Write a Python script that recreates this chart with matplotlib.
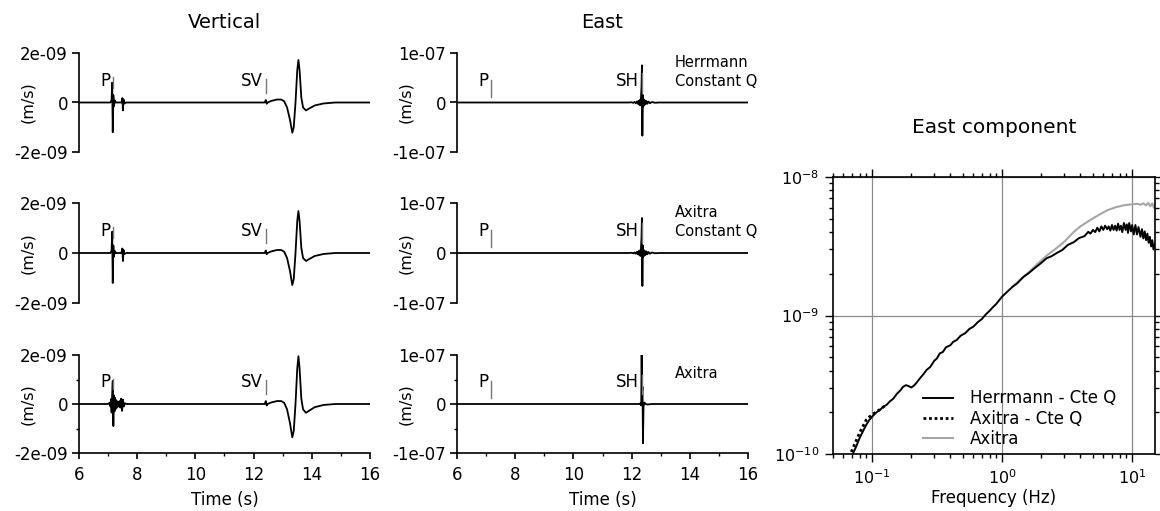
import matplotlib
matplotlib.use("Agg")
from matplotlib import pyplot as plt
from matplotlib import transforms
from matplotlib.ticker import FixedLocator, MultipleLocator, LogLocator, NullFormatter

W, H = 1160, 511

# ---- synthetic seismograms (velocity) ----
vert_scale = 1e-9   # vertical traces listed in 1e-9 m/s
east_scale = 1e-7   # east traces listed in 1e-7 m/s

t_vert_cq = [6.0, 7.08, 7.12, 7.14, 7.16, 7.18, 7.20, 7.23, 7.27, 7.46, 7.49, 7.51, 7.53,
             7.56, 7.62, 12.38, 12.42, 12.45, 12.48, 12.6, 12.8, 12.95, 13.05, 13.15, 13.25,
             13.33, 13.38, 13.44, 13.50, 13.54, 13.58, 13.64, 13.70, 13.80, 13.90, 14.1,
             14.4, 14.8, 16.0]
v_vert_herrmann_cq = [0, 0, 0.1, 0.8, -1.2, 0.3, -0.15, 0.08, 0, 0, 0.18, -0.32, 0.12,
                      -0.04, 0, 0, 0.1, -0.05, 0, 0.06, 0.12, 0.12, 0.05, -0.2, -0.7,
                      -1.22, -1.0, 0.0, 1.3, 1.72, 1.3, 0.2, -0.2, -0.32, -0.25, -0.12,
                      -0.04, 0, 0]
v_vert_axitra_cq = [0, 0, 0.1, 0.85, -1.2, 0.3, -0.15, 0.08, 0, 0, 0.18, -0.32, 0.12,
                    -0.04, 0, 0, 0.1, -0.05, 0, 0.06, 0.12, 0.12, 0.05, -0.2, -0.72,
                    -1.28, -1.04, 0.0, 1.28, 1.68, 1.28, 0.2, -0.2, -0.32, -0.25, -0.12,
                    -0.04, 0, 0]

t_vert_axitra = [6.0, 7.00, 7.05, 7.08, 7.10, 7.12, 7.14, 7.16, 7.18, 7.20, 7.22, 7.24,
                 7.26, 7.28, 7.30, 7.33, 7.36, 7.39, 7.42, 7.45, 7.48, 7.51, 7.54, 7.58,
                 7.64, 12.38, 12.42, 12.45, 12.48, 12.6, 12.8, 12.95, 13.05, 13.15, 13.25,
                 13.33, 13.38, 13.44, 13.50, 13.54, 13.58, 13.64, 13.70, 13.80, 13.90,
                 14.1, 14.4, 14.8, 16.0]
v_vert_axitra = [0, 0, 0.05, -0.1, 0.2, -0.35, 0.4, 0.94, -0.9, 0.35, -0.3, 0.25, -0.2,
                 0.15, -0.15, 0.1, -0.1, 0.12, -0.15, 0.22, -0.28, 0.18, -0.1, 0.03, 0,
                 0, 0.12, -0.06, 0, 0.06, 0.12, 0.12, 0.05, -0.22, -0.78, -1.36, -1.1,
                 0.0, 1.45, 1.95, 1.45, 0.22, -0.22, -0.36, -0.28, -0.13, -0.04, 0, 0]

t_east_cq = [6.0, 11.9, 12.00, 12.06, 12.10, 12.14, 12.18, 12.21, 12.24, 12.26, 12.28,
             12.30, 12.32, 12.34, 12.355, 12.37, 12.385, 12.40, 12.42, 12.44, 12.46,
             12.48, 12.51, 12.54, 12.58, 12.63, 12.70, 12.80, 12.95, 16.0]
v_east_herrmann_cq = [0, 0, 0.005, -0.008, 0.012, -0.015, 0.02, -0.025, 0.035, -0.04,
                      0.05, -0.06, 0.08, 0.3, 0.75, -0.67, 0.15, -0.08, 0.06, -0.05, 0.04,
                      -0.035, 0.03, -0.025, 0.02, -0.015, 0.01, -0.005, 0, 0]
v_east_axitra_cq = [0, 0, 0.005, -0.008, 0.012, -0.015, 0.02, -0.025, 0.035, -0.04,
                    0.05, -0.06, 0.08, 0.3, 0.70, -0.66, 0.15, -0.08, 0.06, -0.05, 0.04,
                    -0.035, 0.03, -0.025, 0.02, -0.015, 0.01, -0.005, 0, 0]

t_east_axitra = [6.0, 12.28, 12.31, 12.33, 12.345, 12.36, 12.375, 12.39, 12.41, 12.44,
                 12.48, 12.55, 12.7, 16.0]
v_east_axitra = [0, 0, 0.02, -0.03, 1.0, 0.25, 0.35, -0.8, -0.05, 0.03, 0.0, -0.01, 0, 0]

# phase picks (s)
p_pick = 7.18
sv_pick = 12.43
sh_pick = 12.36

row_labels = ["Herrmann\nConstant Q", "Axitra\nConstant Q", "Axitra"]
column_titles = ["Vertical", "East"]
time_ticks = [6, 8, 10, 12, 14, 16]
vert_ticklabels = ["-2e-09", "0", "2e-09"]
east_ticklabels = ["-1e-07", "0", "1e-07"]

# ---- amplitude spectra of the east component ----
freq_herrmann_cq = [0.068, 0.075, 0.080, 0.085, 0.090, 0.095, 0.100, 0.108, 0.115, 0.122,
                    0.129, 0.137, 0.145, 0.155, 0.165, 0.173, 0.182, 0.190, 0.200, 0.210,
                    0.220, 0.235, 0.250, 0.262, 0.280, 0.300, 0.315, 0.332, 0.350, 0.370,
                    0.400, 0.420, 0.447, 0.480, 0.520, 0.560, 0.600, 0.650, 0.700, 0.750,
                    0.800, 0.850, 0.900, 0.950, 1.00, 1.10, 1.20, 1.30, 1.46, 1.60, 1.75,
                    1.96, 2.20, 2.40, 2.64, 2.90, 3.20, 3.55, 3.90, 4.30, 4.60, 4.78, 5.0,
                    5.2, 5.4, 5.6, 5.8, 6.0, 6.2, 6.43, 6.6, 6.8, 7.0, 7.2, 7.4, 7.6, 7.8,
                    8.0, 8.2, 8.4, 8.65, 8.9, 9.1, 9.3, 9.5, 9.8, 10.0, 10.3, 10.6, 10.9,
                    11.2, 11.6, 11.9, 12.2, 12.5, 12.8, 13.1, 13.4, 13.7, 14.0, 14.3, 14.6,
                    15.0]
amp_herrmann_cq = [0.92, 1.12, 1.30, 1.46, 1.62, 1.76, 1.86, 2.00, 2.08, 2.20,
                   2.26, 2.40, 2.50, 2.72, 2.88, 3.06, 3.14, 3.10, 3.02, 3.12,
                   3.28, 3.55, 3.80, 4.04, 4.25, 4.70, 4.90, 5.33, 5.45, 5.90,
                   6.10, 6.45, 6.65, 7.15, 7.45, 8.00, 8.30, 8.95, 9.45, 10.2,
                   10.8, 11.5, 12.1, 12.9, 13.7, 14.9, 16.1, 17.0, 19.0, 20.2, 21.7,
                   23.6, 25.9, 26.8, 28.3, 29.7, 32.3, 33.8, 36.2, 37.4, 40.2, 39.0, 41.5,
                   40.0, 43.0, 40.5, 44.0, 41.5, 44.5, 42.0, 44.0, 41.0, 45.0, 41.5, 44.5,
                   41.0, 46.0, 41.5, 44.5, 40.0, 46.5, 41.5, 45.5, 39.5, 46.5, 40.5, 45.0,
                   38.5, 45.0, 38.5, 43.5, 37.0, 42.0, 36.0, 40.5, 35.0, 39.0, 33.5, 37.0,
                   31.5, 35.0, 30.0, 33.0]

freq_axitra_cq = [0.062, 0.068, 0.074, 0.080, 0.086, 0.090, 0.095, 0.100, 0.108, 0.115,
                  0.125]
amp_axitra_cq = [0.80, 1.00, 1.20, 1.42, 1.62, 1.76, 1.85, 1.92, 2.02, 2.10, 2.22]

freq_axitra = [1.20, 1.46, 1.64, 1.80, 2.00, 2.30, 2.64, 3.00, 3.55, 4.00, 4.78, 5.50,
               6.43, 7.50, 8.65, 10.0, 11.0, 11.6, 12.2, 12.8, 13.3, 13.8, 14.3, 14.7,
               15.0]
amp_axitra = [16.1, 19.1, 20.9, 22.8, 25.0, 28.0, 30.8, 34.0, 40.0, 44.0, 49.0, 53.0,
              57.5, 60.5, 62.5, 63.5, 64.0, 63.0, 64.5, 62.5, 65.0, 61.5, 64.5, 60.0,
              63.0]
spec_scale = 1e-10

plt.rcParams["font.family"] = ["DejaVu Sans"]


def px_rect(x0, y0, x1, y1):
    return [x0 / W, 1 - y1 / H, (x1 - x0) / W, (y1 - y0) / H]


def trace_axes(fig, rect, ylim, ticklabels, bottom):
    ax = fig.add_axes(rect)
    ax.set_xlim(6, 16)
    ax.set_ylim(-ylim, ylim)
    ax.spines[["top", "right"]].set_visible(False)
    ax.spines["left"].set_linewidth(1.2)
    ax.yaxis.set_major_locator(FixedLocator([-ylim, 0, ylim]))
    ax.set_yticklabels(ticklabels)
    ax.tick_params(axis="y", which="major", direction="out", length=5, width=1.2,
                   pad=3, labelsize=12)
    ax.set_ylabel("(m/s)", fontsize=11.5)
    ax.yaxis.set_label_coords(-0.151, 0.5)
    if bottom:
        ax.spines["bottom"].set_linewidth(1.2)
        ax.set_xticks(time_ticks)
        ax.set_xticklabels([str(t) for t in time_ticks])
        ax.xaxis.set_minor_locator(MultipleLocator(1))
        ax.yaxis.set_minor_locator(FixedLocator([-ylim / 2, ylim / 2]))
        ax.tick_params(axis="x", which="major", direction="out", length=4.5, width=1.2,
                       pad=5, labelsize=12)
        ax.tick_params(axis="both", which="minor", direction="out", length=2.5, width=1)
        ax.set_xlabel("Time (s)", fontsize=12)
        ax.xaxis.set_label_coords(0.5, -0.39)
    else:
        ax.spines["bottom"].set_visible(False)
        ax.tick_params(axis="x", bottom=False, labelbottom=False)
    return ax


def phase_mark(ax, t, label, y0, y1):
    trans = transforms.blended_transform_factory(ax.transData, ax.transAxes)
    ax.axvline(t, ymin=y0, ymax=y1, color="#777777", lw=1)
    ax.text(t - 0.1, 0.72, label, transform=trans, ha="right", va="center", fontsize=12)


fig = plt.figure(figsize=(W / 100, H / 100), dpi=100)

rows = [(53, 152), (203, 303), (355, 453)]
cols = [(79, 370), (457, 748)]

vert_traces = [(t_vert_cq, v_vert_herrmann_cq), (t_vert_cq, v_vert_axitra_cq),
               (t_vert_axitra, v_vert_axitra)]
east_traces = [(t_east_cq, v_east_herrmann_cq), (t_east_cq, v_east_axitra_cq),
               (t_east_axitra, v_east_axitra)]

for i, (y0, y1) in enumerate(rows):
    bottom = i == 2

    axz = trace_axes(fig, px_rect(cols[0][0], y0, cols[0][1], y1), 2e-9,
                     vert_ticklabels, bottom)
    t, v = vert_traces[i]
    axz.plot(t, [a * vert_scale for a in v], color="k", lw=1.3)
    phase_mark(axz, p_pick, "P", 0.65, 0.76)
    phase_mark(axz, sv_pick, "SV", 0.60, 0.74)

    axe = trace_axes(fig, px_rect(cols[1][0], y0, cols[1][1], y1), 1e-7,
                     east_ticklabels, bottom)
    t, v = east_traces[i]
    axe.plot(t, [a * east_scale for a in v], color="k", lw=1.3)
    phase_mark(axe, p_pick, "P", 0.56, 0.73)
    phase_mark(axe, sh_pick, "SH", 0.60, 0.80)
    axe.text(0.749, 0.81, row_labels[i], transform=axe.transAxes, ha="left",
             va="center", fontsize=10.5, linespacing=1.3)

    if i == 0:
        axz.text(0.5, 1.313, column_titles[0], transform=axz.transAxes,
                 ha="center", va="center", fontsize=14)
        axe.text(0.5, 1.313, column_titles[1], transform=axe.transAxes,
                 ha="center", va="center", fontsize=14)

# spectrum panel
axs = fig.add_axes(px_rect(833, 177, 1155, 454))
axs.set_xscale("log")
axs.set_yscale("log")
axs.plot(freq_axitra, [a * spec_scale for a in amp_axitra], color="#a6a6a6", lw=1.5,
         label="Axitra", zorder=2)
axs.plot(freq_axitra_cq, [a * spec_scale for a in amp_axitra_cq], color="k", lw=2,
         ls=(0, (1, 1)), label="Axitra - Cte Q", zorder=3)
axs.plot(freq_herrmann_cq, [a * spec_scale for a in amp_herrmann_cq], color="k", lw=1.4,
         label="Herrmann - Cte Q", zorder=4)
axs.set_xlim(0.05, 15)
axs.set_ylim(1e-10, 1e-8)
axs.xaxis.set_major_locator(LogLocator(base=10))
axs.xaxis.set_minor_locator(LogLocator(base=10, subs=range(2, 10)))
axs.yaxis.set_minor_locator(LogLocator(base=10, subs=range(2, 10)))
axs.xaxis.set_minor_formatter(NullFormatter())
axs.yaxis.set_minor_formatter(NullFormatter())
axs.grid(True, which="major", color="#8a8a8a", lw=0.9)
for s in axs.spines.values():
    s.set_linewidth(1.2)
axs.tick_params(which="both", direction="out", top=True, right=True, width=1)
axs.tick_params(which="major", length=6, labelsize=11.5, pad=4)
axs.tick_params(which="minor", length=3)
axs.set_xlabel("Frequency (Hz)", fontsize=12)
axs.xaxis.set_label_coords(0.5, -0.125)
axs.text(0.5, 1.177, "East component", transform=axs.transAxes, ha="center",
         va="center", fontsize=14.5)

handles, labels = axs.get_legend_handles_labels()
order = [2, 1, 0]
axs.legend([handles[k] for k in order], [labels[k] for k in order], loc="upper left",
           bbox_to_anchor=(0.2795, 0.233), frameon=False, fontsize=12, handlelength=1.8,
           handletextpad=1.0, labelspacing=0.14, borderpad=0, borderaxespad=0)

fig.savefig("out.png", dpi=100, facecolor="white")
